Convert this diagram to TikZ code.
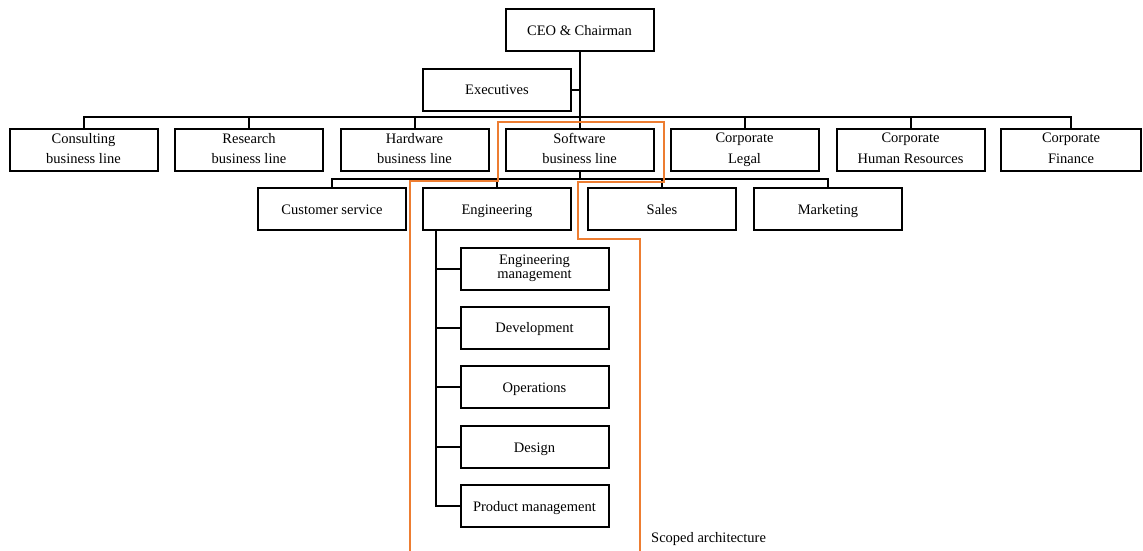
\documentclass[tikz,border=0pt]{standalone}
\usepackage{fontspec}
\setmainfont{Liberation Serif}
\usetikzlibrary{calc}
\definecolor{scopeorange}{RGB}{237,125,49}
\newcommand{\topstrut}{\rule{0pt}{13.5pt}}
\newcommand{\botstrut}{\rule[-3.5pt]{0pt}{3.5pt}}
\tikzset{
  unit/.style={draw=black, line width=2pt, minimum width=148pt, minimum height=42pt,
    align=center, inner sep=2pt, font=\fontsize{14.5}{20.5}\selectfont,
    execute at begin node=\topstrut, execute at end node=\botstrut},
  tight/.style={font=\fontsize{14.5}{14}\selectfont},
  link/.style={draw=black, line width=2pt},
  scope line/.style={draw=scopeorange, line width=2pt}
}
\begin{document}
\begin{tikzpicture}[x=1pt,y=-1pt]
\fill[white] (0,0) rectangle (1143,550);
\useasboundingbox (0,0) rectangle (1143,550);

% top of the hierarchy
\node[unit] (ceo) at (579.5,30) {CEO \& Chairman};
\node[unit] (exec) at (497,89.5) {Executives};

% business lines and corporate functions
\node[unit] (cons) at (83.5,150) {Consulting\\business line};
\node[unit] (res) at (249,150) {Research\\business line};
\node[unit] (hw) at (414.5,150) {Hardware\\business line};
\node[unit] (sw) at (579.5,150) {Software\\business line};
\node[unit] (legal) at (744.5,150) {Corporate\\Legal};
\node[unit] (hr) at (910.5,150) {Corporate\\Human Resources};
\node[unit, minimum width=140pt] (fin) at (1071,150) {Corporate\\Finance};

% software business line departments
\node[unit] (cs) at (332,209) {Customer service};
\node[unit] (eng) at (497,209) {Engineering};
\node[unit] (sales) at (662,209) {Sales};
\node[unit] (mkt) at (828,209) {Marketing};

% engineering teams
\node[unit, tight] (em) at (534.5,268.5) {Engineering\\management};
\node[unit] (dev) at (534.5,327.5) {Development};
\node[unit] (ops) at (534.5,387) {Operations};
\node[unit] (des) at (534.5,447) {Design};
\node[unit] (pm) at (534.5,506) {Product management};

% connectors: CEO, executives, top-level bus
\draw[link] (cons.north) -- ++(0,-11) coordinate (bus) -| (fin.north);
\foreach \n in {res,hw,sw,legal,hr} \draw[link] (\n.north) -- (\n.north |- bus);
\draw[link] (ceo.south) -- (ceo.south |- bus);
\draw[link] (exec.east) -- (exec.east -| ceo.south);

% connectors: software business line
\draw[link] (cs.north) -- ++(0,-8.5) coordinate (bus2) -| (mkt.north);
\foreach \n in {eng,sales} \draw[link] (\n.north) -- (\n.north |- bus2);
\draw[link] (sw.south) -- (sw.south |- bus2);

% connectors: engineering teams
\coordinate (spine) at ([xshift=14pt]eng.south west);
\draw[link] (spine) |- (pm.west);
\foreach \n in {em,dev,ops,des} \draw[link] (\n.west) -- (\n.west -| spine);

% scoped architecture outline
\draw[scope line] (410,551) -- (410,181) -- (498,181) -- (498,122) -- (664,122)
  -- (664,182) -- (578,182) -- (578,239) -- (640,239) -- (640,551);
\node[anchor=west, inner sep=0pt, font=\fontsize{14.5}{16}\selectfont] (scope) at (651,539) {Scoped architecture};
\end{tikzpicture}
\end{document}
